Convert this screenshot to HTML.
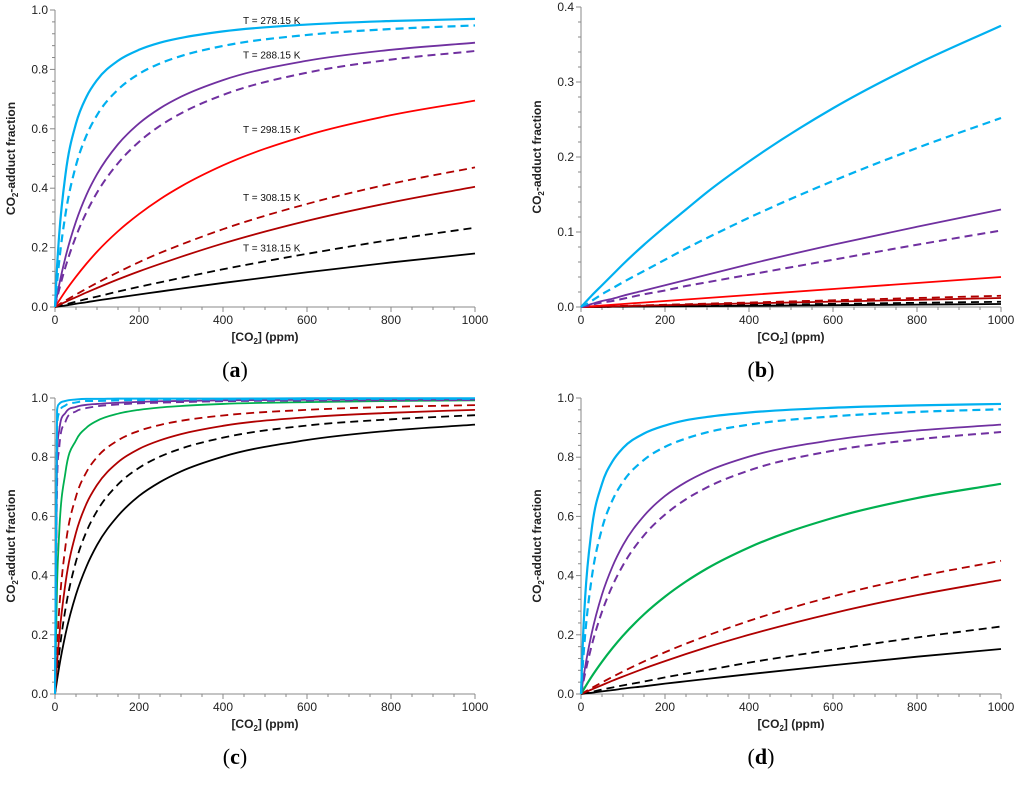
<!DOCTYPE html>
<html><head><meta charset="utf-8"><style>
body{margin:0;background:#fff;}
svg{display:block;font-family:"Liberation Sans",sans-serif;}
</style></head><body>
<svg id="fig" width="1024" height="793" viewBox="0 0 1024 793"></svg>
<script>
const xs = [0,5,10,25,50,75,100,150,200,250,300,400,600,800,1000];
const xTicks = [0,200,400,600,800,1000];
const yTicksA = [0.0,0.2,0.4,0.6,0.8,1.0];
const yTicksB = [0.0,0.1,0.2,0.3,0.4];
const colors = {cyan:"#00B0F0",purple:"#7030A0",red:"#FF0000",dred:"#B00000",green:"#00B050",black:"#000000"};

const aCyan=[0,.139,.244,.447,.618,.708,.764,.829,.866,.890,.906,.928,.951,.963,.970];
const aCyanD=[0,.084,.154,.313,.477,.578,.646,.732,.785,.820,.845,.879,.916,.936,.948];
const aPur=[0,.039,.075,.168,.288,.378,.447,.548,.618,.669,.708,.764,.829,.866,.890];
const aPurD=[0,.030,.059,.135,.238,.319,.385,.484,.556,.610,.652,.714,.789,.833,.862];
const aRed=[0,.011,.022,.054,.102,.146,.186,.255,.313,.363,.406,.477,.578,.646,.695];
const aDrD=[0,.004,.009,.022,.042,.062,.081,.117,.151,.182,.210,.262,.347,.415,.470];
const aDr=[0,.003,.007,.017,.033,.049,.064,.093,.120,.145,.169,.214,.290,.352,.405];
const aBlkD=[0,.002,.004,.009,.018,.027,.035,.052,.068,.083,.098,.127,.179,.226,.267];
const aBlk=[0,.001,.002,.005,.011,.016,.022,.032,.042,.052,.062,.081,.117,.150,.180];

const bCyan=[0,.003,.006,.015,.029,.043,.057,.083,.107,.130,.153,.194,.265,.324,.375];
const bCyanD=[0,.002,.003,.008,.017,.025,.033,.048,.063,.078,.092,.119,.168,.212,.252];
const bPur=[0,.001,.0015,.004,.008,.011,.015,.022,.029,.036,.043,.057,.083,.107,.130];
const bPurD=[0,.0005,.001,.003,.006,.008,.011,.017,.022,.028,.033,.043,.063,.083,.102];
const bRed=[0,0,.0004,.001,.002,.003,.004,.006,.008,.010,.012,.016,.024,.032,.040];
const bDrD=[0,0,0,0,.001,.0011,.0015,.0022,.003,.0037,.0045,.006,.009,.012,.015];
const bDr=[0,0,0,0,.0006,.0009,.0012,.0018,.0024,.003,.0036,.0048,.0072,.0096,.012];
const bBlkD=[0,0,0,0,0,.0005,.0007,.001,.0014,.0017,.002,.0028,.0042,.0056,.007];
const bBlk=[0,0,0,0,0,.0003,.0004,.0006,.0008,.001,.0012,.0016,.0024,.0032,.004];

const cCyan=[0,.96,.98,.99,.995,.997,.997,.998,.998,.998,.998,.998,.999,.999,.999];
const cCyanD=[0,.9,.95,.975,.985,.99,.99,.992,.993,.994,.995,.995,.996,.997,.997];
const cPur=[0,.8,.89,.95,.97,.977,.98,.984,.987,.989,.99,.992,.994,.995,.995];
const cPurD=[0,.7,.83,.92,.955,.966,.972,.978,.982,.984,.986,.989,.991,.992,.993];
const cGreen=[0,.375,.545,.75,.857,.9,.923,.947,.96,.968,.973,.98,.986,.99,.992];
const cDrD=[0,.167,.286,.5,.667,.75,.8,.857,.889,.909,.923,.941,.96,.97,.976];
const cDr=[0,.107,.194,.375,.545,.643,.706,.783,.828,.857,.878,.906,.935,.95,.96];
const cBlkD=[0,.075,.139,.288,.448,.549,.618,.708,.764,.802,.829,.866,.907,.928,.942];
const cBlk=[0,.048,.092,.202,.336,.431,.503,.602,.669,.716,.752,.802,.858,.890,.910];

const dCyan=[0,.197,.329,.551,.710,.786,.831,.880,.907,.925,.936,.951,.967,.975,.980];
const dCyanD=[0,.112,.202,.387,.559,.655,.717,.791,.835,.863,.884,.910,.938,.953,.962];
const dPur=[0,.048,.092,.202,.336,.431,.503,.602,.669,.716,.752,.802,.858,.890,.910];
const dPurD=[0,.037,.071,.161,.278,.366,.435,.536,.606,.658,.698,.755,.822,.860,.885];
const dGreen=[0,.012,.024,.058,.109,.155,.197,.269,.329,.380,.424,.495,.595,.662,.710];
const dDrD=[0,.004,.008,.020,.039,.058,.076,.110,.141,.170,.197,.247,.330,.396,.450];
const dDr=[0,.003,.006,.015,.030,.045,.059,.086,.111,.135,.158,.200,.273,.334,.385];
const dBlkD=[0,.0015,.003,.007,.015,.022,.029,.042,.056,.069,.081,.106,.150,.191,.228];
const dBlk=[0,.001,.002,.004,.009,.013,.018,.026,.035,.043,.051,.067,.097,.126,.152];

const annLabels=["T = 278.15 K","T = 288.15 K","T = 298.15 K","T = 308.15 K","T = 318.15 K"];
const annY=[0.966,0.85,0.6,0.37,0.2];

const NS="http://www.w3.org/2000/svg";
const svg=document.getElementById('fig');
function mk(tag,attrs,parent){const e=document.createElementNS(NS,tag);for(const k in attrs)e.setAttribute(k,attrs[k]);(parent||svg).appendChild(e);return e;}

function smoothPath(pts){
  const n=pts.length;const d=[],h=[],m=[];
  for(let i=0;i<n-1;i++){h.push(pts[i+1][0]-pts[i][0]);d.push((pts[i+1][1]-pts[i][1])/h[i]);}
  m[0]=d[0];m[n-1]=d[n-2];
  for(let i=1;i<n-1;i++){
    if(d[i-1]*d[i]<=0){m[i]=0;continue;}
    let v=(h[i]*d[i-1]+h[i-1]*d[i])/(h[i-1]+h[i]);
    const lim=3*Math.min(Math.abs(d[i-1]),Math.abs(d[i]));
    if(Math.abs(v)>lim)v=Math.sign(v)*lim;
    m[i]=v;
  }
  let s="M"+pts[0][0].toFixed(2)+","+pts[0][1].toFixed(2);
  for(let i=0;i<n-1;i++){const q=h[i]/3;
    s+=" C"+(pts[i][0]+q).toFixed(2)+","+(pts[i][1]+m[i]*q).toFixed(2)+" "+(pts[i+1][0]-q).toFixed(2)+","+(pts[i+1][1]-m[i+1]*q).toFixed(2)+" "+pts[i+1][0].toFixed(2)+","+pts[i+1][1].toFixed(2);}
  return s;
}

function panel(id,x0,x1,yb,yt,ymax,yTicks,ydec,series,letter){
  const g=mk('g',{});
  
  
  const X=v=>x0+(x1-x0)*v/1000, Y=v=>yb-(yb-yt)*v/ymax;
  const ax=mk('path',{d:`M${x0},${yt} V${yb} H${x1}`,stroke:'#888',fill:'none','stroke-width':1},g);
  
  
  const ystep=yTicks[1]-yTicks[0];
  for(let k=0;k<=(yTicks.length-1)*5;k++){const v=k*ystep/5;const y=Y(v);
    mk('line',{x1:x0-(k%5===0?5:3),x2:x0,y1:y,y2:y,stroke:'#888','stroke-width':1},g);}
  yTicks.forEach(v=>{const t=mk('text',{x:x0-7,y:Y(v)+4,'text-anchor':'end','font-size':12,fill:'#222'},g);t.textContent=v.toFixed(ydec);
    
    });
  for(let k=0;k<=20;k++){const x=X(k*50);mk('line',{x1:x,x2:x,y1:yb,y2:yb+(k%4===0?5:3),stroke:'#888','stroke-width':1},g);}
  xTicks.forEach(v=>{const t=mk('text',{x:X(v),y:yb+17,'text-anchor':'middle','font-size':12,fill:'#222'},g);t.textContent=v;
    
    });
  const xt=mk('text',{x:(x0+x1)/2,y:yb+34,'text-anchor':'middle','font-size':12,'font-weight':'bold',fill:'#222'},g);
  xt.innerHTML='[CO<tspan font-size="8" dy="3">2</tspan><tspan dy="-3">] (ppm)</tspan>';
  
  
  const cy=(yb+yt)/2;
  const yt2=mk('text',{x:x0-40,y:cy,'text-anchor':'middle','font-size':12,'font-weight':'bold',fill:'#222',transform:`rotate(-90 ${x0-40} ${cy})`},g);
  yt2.innerHTML='CO<tspan font-size="8" dy="3">2</tspan><tspan dy="-3">-adduct fraction</tspan>';
  
  
  series.forEach(s=>{
    const pts=xs.map((x,i)=>[X(x),Y(s.v[i])]);
    const p=mk('path',{d:smoothPath(pts),fill:'none',stroke:colors[s.c],'stroke-width':s.w||1.8,'stroke-dasharray':s.dash?'8,5':'none'},g);
    
    
  });
  const lt=mk('text',{x:(x0+x1)/2-30,y:yb+70,'text-anchor':'middle','font-size':22,'font-family':'"Liberation Serif",serif',fill:'#000'},g);
  lt.innerHTML='(<tspan font-weight="bold">'+letter+'</tspan>)';
  
  
  return {X,Y,g};
}

const A=panel('a',55,475,307,10,1,yTicksA,1,[
 {v:aBlk,c:'black',n:'black-solid'},{v:aBlkD,c:'black',dash:1,n:'black-dashed'},
 {v:aDr,c:'dred',n:'darkred-solid'},{v:aDrD,c:'dred',dash:1,n:'darkred-dashed'},
 {v:aRed,c:'red',n:'red-solid'},{v:aPurD,c:'purple',dash:1,n:'purple-dashed',w:2},
 {v:aPur,c:'purple',n:'purple-solid'},{v:aCyanD,c:'cyan',dash:1,n:'cyan-dashed',w:2.2},{v:aCyan,c:'cyan',n:'cyan-solid',w:2.2}],'a');
annLabels.forEach((s,i)=>{const t=mk('text',{x:243,y:A.Y(annY[i])+4,'font-size':10,fill:'#111'},A.g);t.textContent=s;
  
  });
panel('b',581,1001,307,7,0.4,yTicksB,1,[
 {v:bBlk,c:'black',n:'black-solid'},{v:bBlkD,c:'black',dash:1,n:'black-dashed'},
 {v:bDr,c:'dred',n:'darkred-solid'},{v:bDrD,c:'dred',dash:1,n:'darkred-dashed'},
 {v:bRed,c:'red',n:'red-solid'},{v:bPurD,c:'purple',dash:1,n:'purple-dashed',w:2},
 {v:bPur,c:'purple',n:'purple-solid'},{v:bCyanD,c:'cyan',dash:1,n:'cyan-dashed',w:2.2},{v:bCyan,c:'cyan',n:'cyan-solid',w:2.2}],'b');
panel('c',55,475,694,398,1,yTicksA,1,[
 {v:cBlk,c:'black',n:'black-solid'},{v:cBlkD,c:'black',dash:1,n:'black-dashed'},
 {v:cDr,c:'dred',n:'darkred-solid'},{v:cDrD,c:'dred',dash:1,n:'darkred-dashed'},
 {v:cGreen,c:'green',n:'green-solid'},{v:cPurD,c:'purple',dash:1,n:'purple-dashed'},
 {v:cPur,c:'purple',n:'purple-solid'},{v:cCyanD,c:'cyan',dash:1,n:'cyan-dashed',w:2},{v:cCyan,c:'cyan',n:'cyan-solid',w:2}],'c');
panel('d',581,1001,694,398,1,yTicksA,1,[
 {v:dBlk,c:'black',n:'black-solid'},{v:dBlkD,c:'black',dash:1,n:'black-dashed'},
 {v:dDr,c:'dred',n:'darkred-solid'},{v:dDrD,c:'dred',dash:1,n:'darkred-dashed'},
 {v:dGreen,c:'green',n:'green-solid',w:2.2},{v:dPurD,c:'purple',dash:1,n:'purple-dashed',w:2},
 {v:dPur,c:'purple',n:'purple-solid'},{v:dCyanD,c:'cyan',dash:1,n:'cyan-dashed',w:2.2},{v:dCyan,c:'cyan',n:'cyan-solid',w:2.2}],'d');
</script>
</body></html>
